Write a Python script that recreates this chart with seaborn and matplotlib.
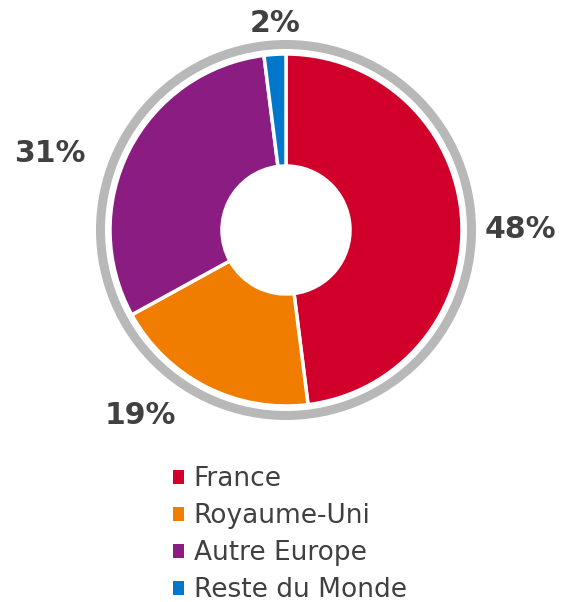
import matplotlib
matplotlib.use("Agg")
import matplotlib.pyplot as plt
import seaborn as sns
from matplotlib.patches import Patch

categories = ["France", "Royaume-Uni", "Autre Europe", "Reste du Monde"]
values = [48, 19, 31, 2]
labels = ["48%", "19%", "31%", "2%"]
colors = ["#D0002A", "#F07D00", "#8B1D82", "#0077C8"]

sns.set_theme(style="white")
plt.rcParams['font.family'] = ['DejaVu Sans']

W, H = 563, 602
fig = plt.figure(figsize=(W / 100, H / 100), dpi=100)
ax = fig.add_axes([0, 0, 1, 1])

cx, cy = 286, H - 230
R, r_hole = 176, 64

# outer grey ring
ax.pie([1], colors=["#B8B8B8"], radius=190, center=(cx, cy),
       wedgeprops=dict(width=9, edgecolor="none"), frame=True)

wedges, _ = ax.pie(values, colors=colors, radius=R, center=(cx, cy),
                   startangle=90, counterclock=False,
                   wedgeprops=dict(width=R - r_hole, edgecolor="white", linewidth=2.5),
                   frame=True)
ax.set_xlim(0, W)
ax.set_ylim(0, H)
ax.set_aspect("equal")
ax.axis("off")

label_pos = [(520, 229), (140, 416), (50, 153), (275, 23)]
for lab, (x, y) in zip(labels, label_pos):
    ax.text(x, H - y, lab, ha="center", va="center", fontsize=21.5,
            fontweight="bold", color="#404040")

handles = [Patch(facecolor=c, edgecolor="none") for c in colors]
leg = fig.legend(handles, categories, loc="upper left",
                 bbox_to_anchor=(160 / W, 1 - 453 / H), frameon=False,
                 fontsize=19, handlelength=0.42, handleheight=0.42,
                 handletextpad=0.35, labelspacing=0.42, borderpad=0)
for t in leg.get_texts():
    t.set_color("#404040")

fig.savefig("out.png", dpi=100)
